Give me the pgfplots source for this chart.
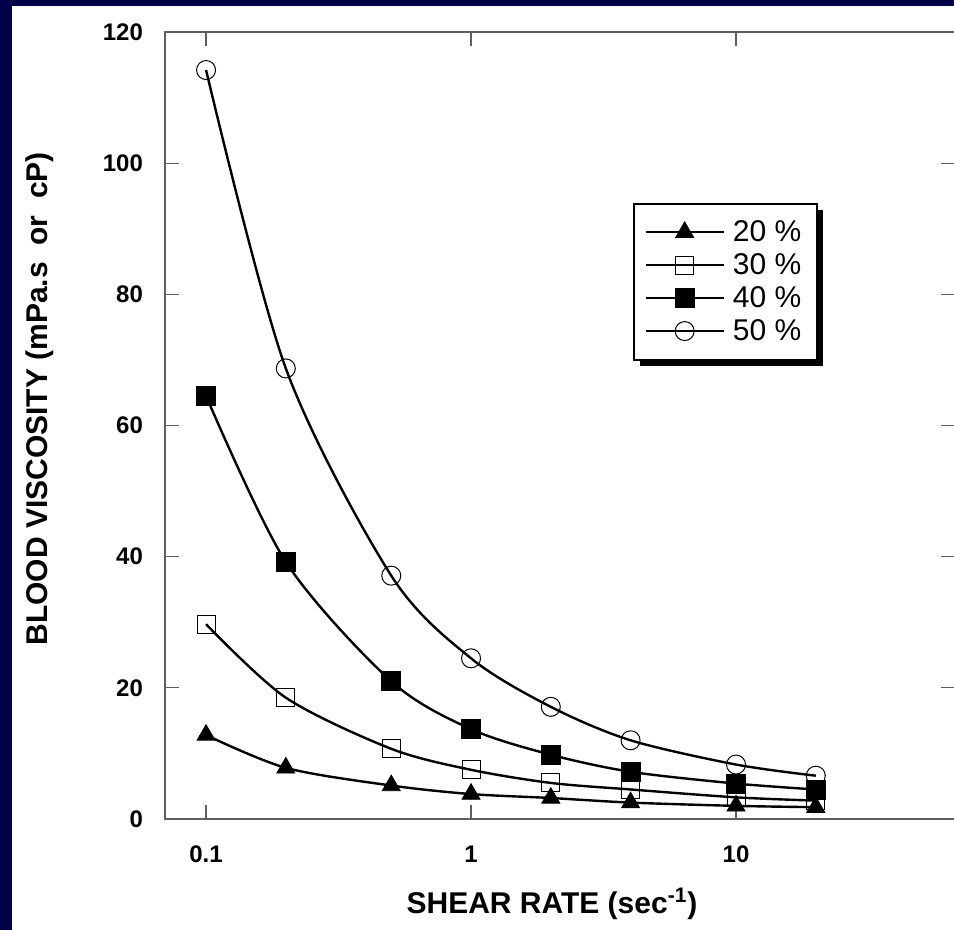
\documentclass[border=0pt]{standalone}
\usepackage{fontspec}
\setmainfont{Liberation Sans}
\usepackage{pgfplots}
\pgfplotsset{compat=1.18}
\usetikzlibrary{shadows}
\definecolor{navybg}{RGB}{0,0,72}
\definecolor{axgray}{RGB}{95,95,95}
\makeatletter
\tikzset{no preactions/.code={\let\tikz@preactions\pgfutil@empty}}
\makeatother
\begin{document}
\begin{tikzpicture}
  % background frame
  \fill[navybg] (0,0) rectangle (477pt,465pt);
  \fill[white] (6pt,0) rectangle (477pt,462pt);
  \begin{axis}[
    at={(82.5pt,55.5pt)}, anchor=south west,
    scale only axis,
    width=395pt, height=393.5pt,
    xmode=log,
    xmin=0.07, xmax=67.05,
    ymin=0, ymax=120,
    xtick={0.1,1,10},
    xticklabels={0.1,1,10},
    xminorticks=false,
    ytick={0,20,40,60,80,100,120},
    tick align=inside,
    major tick length=7pt,
    axis line style={axgray, line width=0.6pt},
    every tick/.style={axgray, line width=0.6pt},
    /pgf/number format/assume math mode=true,
    ticklabel style={font=\bfseries\fontsize{12}{14}\selectfont},
    yticklabel style={xshift=-7.5pt},
    xticklabel style={yshift=-10pt},
    xlabel={SHEAR RATE (sec\textsuperscript{-1})},
    ylabel={BLOOD VISCOSITY (mPa.s\ \ or\ \ cP)},
    label style={font=\bfseries\fontsize{15}{18}\selectfont},
    xlabel style={at={(axis description cs:0.4899,-0.1080)}, anchor=center},
    ylabel style={at={(axis description cs:-0.1580,0.534)}, anchor=center},
    legend style={
      at={(rel axis cs:0.592,0.783)}, anchor=north west,
      draw=black, line width=1pt, fill=white,
      font=\fontsize{15}{17}\selectfont,
      row sep=0pt, inner xsep=4pt, inner ysep=6pt,
      nodes={no preactions, inner xsep=4pt, inner ysep=2.25pt},
      column 2/.style={nodes={inner xsep=2pt}},
      drop shadow={shadow xshift=3pt, shadow yshift=-3pt, fill=black, opacity=1},
    },
    legend cell align=left,
    legend image code/.code={
      \path[no preactions, draw=none] (-2pt,0pt) -- (0pt,0pt);
      \draw[no preactions, mark repeat=2,mark phase=2] plot coordinates {(0pt,0pt) (19.5pt,0pt) (39pt,0pt)};
    },
  ]
    \addplot[black, line width=1.2pt, smooth, tension=0.5, mark=triangle*, mark size=5.2pt,
      mark options={solid, fill=black, line width=0.4pt}] coordinates {
      (0.1,12.8) (0.2,7.8) (0.5,5.1) (1,3.8) (2,3.2) (4,2.5) (10,2.0) (20,1.8)
    };
    \addplot[black, line width=1.2pt, smooth, tension=0.5, mark=square, mark size=4.5pt,
      mark options={solid, fill=none, draw=black, line width=0.5pt}] coordinates {
      (0.1,29.7) (0.2,18.5) (0.5,10.7) (1,7.5) (2,5.5) (4,4.5) (10,3.3) (20,2.8)
    };
    \addplot[black, line width=1.2pt, smooth, tension=0.5, mark=square*, mark size=4.75pt,
      mark options={solid, fill=black, line width=0.4pt}] coordinates {
      (0.1,64.5) (0.2,39.2) (0.5,21.0) (1,13.7) (2,9.8) (4,7.2) (10,5.4) (20,4.5)
    };
    \addplot[black, line width=1.2pt, smooth, tension=0.5, mark=o, mark size=4.75pt,
      mark options={solid, fill=none, draw=black, line width=0.5pt}] coordinates {
      (0.1,114.2) (0.2,68.7) (0.5,37.1) (1,24.5) (2,17.1) (4,12.0) (10,8.3) (20,6.6)
    };
    \legend{20 \%,30 \%,40 \%,50 \%}
  \end{axis}
  \pgfresetboundingbox
  \path[use as bounding box] (0,0) rectangle (477pt,465pt);
\end{tikzpicture}
\end{document}
